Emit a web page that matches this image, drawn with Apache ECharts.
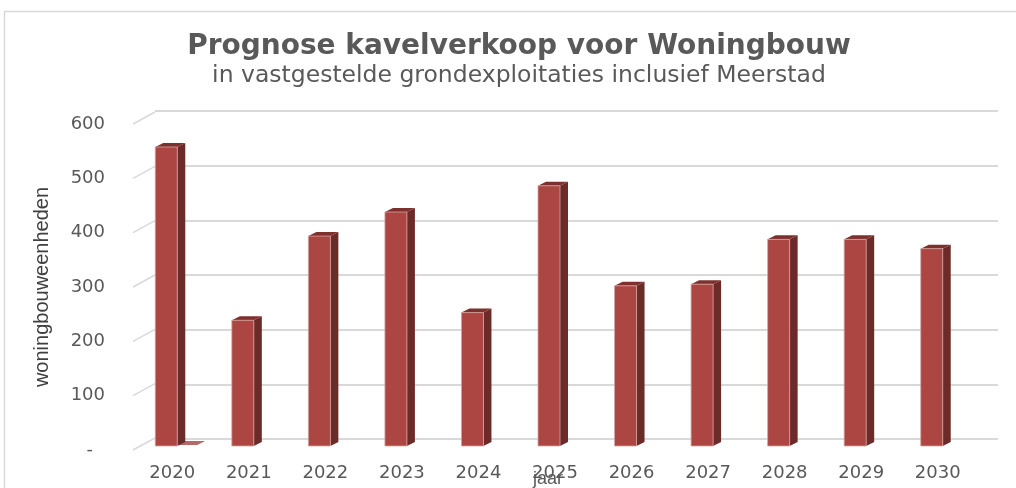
<!DOCTYPE html>
<html>
<head>
<meta charset="utf-8">
<script src="https://cdn.jsdelivr.net/npm/echarts@6/dist/echarts.min.js"></script>
<style>
  html, body { margin: 0; padding: 0; background: #fff; }
  #chart { width: 1016px; height: 488px; }
</style>
</head>
<body>
<div id="chart"></div>
<script>
// Years on the category axis
const years = ['2020', '2021', '2022', '2023', '2024', '2025', '2026', '2027', '2028', '2029', '2030'];
// Forecast plot sales for housing (woningbouweenheden)
const kavelverkoop = [547, 230, 384, 428, 244, 476, 293, 296, 378, 378, 361];
// Second series: only a zero entry for 2020, drawn as a flat block
const tweedeReeks = [0, null, null, null, null, null, null, null, null, null, null];
// Value-axis ticks
const yTicks = [0, 100, 200, 300, 400, 500, 600];

const chart = echarts.init(document.getElementById('chart'), null, { renderer: 'canvas' });

// Column geometry (pseudo-3D)
const FACE_W = 22;      // width of the front face
const FACE_SHIFT = -6;  // front face centre relative to category centre
const DEPTH_X = 8;      // side face depth, horizontal
const DEPTH_Y = 4;      // side face depth, vertical
const DIAG_X = 22, DIAG_Y = 12;

const FRONT = '#AC4643';
const SIDE = '#6C2A28';
const TOP = '#7D302D';
const EDGE = '#D6A3A1';
const GRID = '#D9D9D9';
const TEXT = '#595959';

function renderColumn(params, api) {
  const v = api.value(1);
  if (v === null || isNaN(v)) return null;
  const top = api.coord([api.value(0), v]);
  const base = api.coord([api.value(0), 0]);
  const x0 = top[0] + FACE_SHIFT - FACE_W / 2;
  const x1 = x0 + FACE_W;
  const yT = top[1], yB = base[1];
  return {
    type: 'group',
    children: [
      { type: 'polygon', shape: { points: [[x1, yT], [x1 + DEPTH_X, yT - DEPTH_Y], [x1 + DEPTH_X, yB - DEPTH_Y], [x1, yB]] },
        style: { fill: SIDE } },
      { type: 'polygon', shape: { points: [[x0, yT], [x0 + DEPTH_X, yT - DEPTH_Y], [x1 + DEPTH_X, yT - DEPTH_Y], [x1, yT]] },
        style: { fill: TOP } },
      { type: 'rect', shape: { x: x0, y: yT, width: FACE_W, height: yB - yT },
        style: { fill: FRONT, stroke: EDGE, lineWidth: 0.8 } }
    ]
  };
}

// Flat (zero height) block of the second series, next to the main column
function renderFlat(params, api) {
  const v = api.value(1);
  if (v === null || isNaN(v)) return null;
  const top = api.coord([api.value(0), v]);
  const x0 = top[0] + FACE_SHIFT - FACE_W / 2 + FACE_W;
  const x1 = x0 + FACE_W - 2;
  const y = top[1] - 1;
  return {
    type: 'polygon',
    shape: { points: [[x0, y], [x0 + DEPTH_X, y - DEPTH_Y], [x1 + DEPTH_X, y - DEPTH_Y], [x1, y]] },
    style: { fill: '#B26B69' }
  };
}

// Receding lines linking the value labels to the back-wall gridlines
function renderDiagonal(params, api) {
  const p = api.coord([0, api.value(0)]);
  const left = p[0] - api.size([1, 0])[0] / 2;
  return {
    type: 'line',
    shape: { x1: left - 1, y1: p[1], x2: left - 1 + DIAG_X, y2: p[1] - DIAG_Y },
    style: { stroke: GRID, lineWidth: 1.5 }
  };
}

const option = {
  backgroundColor: '#ffffff',
  animation: false,
  title: {
    text: 'Prognose kavelverkoop voor Woningbouw',
    subtext: 'in vastgestelde grondexploitaties inclusief Meerstad',
    left: 514,
    textAlign: 'center',
    top: 28,
    itemGap: 3,
    textStyle: { fontFamily: 'DejaVu Sans', fontWeight: 'bold', fontSize: 28, color: TEXT },
    subtextStyle: { fontFamily: 'DejaVu Sans', fontSize: 23.5, color: TEXT }
  },
  graphic: [
    { type: 'rect', silent: true, shape: { x: 4.5, y: 11.5, width: 1200, height: 700 },
      style: { fill: 'none', stroke: GRID, lineWidth: 1.5 } }
  ],
  grid: [
    // back wall with the gridlines
    { left: 155, right: 18, top: 111, bottom: 49, outerBoundsMode: 'none', containLabel: false },
    // front plane: axis labels
    { left: 134, right: 40, top: 124, bottom: 38, outerBoundsMode: 'none', containLabel: false },
    // columns
    { left: 134, right: 40, top: 118, bottom: 42, outerBoundsMode: 'none', containLabel: false }
  ],
  xAxis: [
    { gridIndex: 0, type: 'category', data: years, show: false },
    { gridIndex: 1, type: 'category', data: years,
      axisLine: { show: false }, axisTick: { show: false },
      axisLabel: { margin: 14, fontFamily: 'DejaVu Sans', fontSize: 18, color: TEXT },
      name: 'jaar', nameLocation: 'middle', nameGap: 20, nameMoveOverlap: false,
      nameTextStyle: { fontFamily: 'Liberation Sans', fontSize: 18, color: TEXT, padding: [0, 14, 0, 0] } },
    { gridIndex: 2, type: 'category', data: years, show: false }
  ],
  yAxis: [
    { gridIndex: 0, type: 'value', min: 0, max: 600, interval: 100,
      axisLine: { show: false }, axisTick: { show: false }, axisLabel: { show: false },
      splitLine: { lineStyle: { color: GRID, width: 2 } } },
    { gridIndex: 1, type: 'value', min: 0, max: 600, interval: 100,
      axisLine: { show: false }, axisTick: { show: false }, splitLine: { show: false },
      axisLabel: {
        margin: 29, fontFamily: 'DejaVu Sans', fontSize: 18, color: TEXT,
        formatter: v => v === 0 ? '{d|-}' : String(v),
        rich: { d: { fontFamily: 'DejaVu Sans', fontSize: 18, color: TEXT, padding: [0, 12, 0, 0] } }
      },
      name: 'woningbouweenheden', nameLocation: 'middle', nameRotate: 90, nameGap: 82, nameMoveOverlap: false,
      nameTextStyle: { fontFamily: 'Liberation Sans', fontSize: 20, color: '#404040' } },
    { gridIndex: 2, type: 'value', min: 0, max: 600, interval: 100, show: false, splitLine: { show: false } }
  ],
  series: [
    { type: 'custom', name: 'diagonalen', xAxisIndex: 1, yAxisIndex: 1, silent: true,
      renderItem: renderDiagonal, encode: { y: 0 }, data: yTicks.map(v => [v]), z: 1 },
    { type: 'custom', name: 'kavelverkoop', xAxisIndex: 2, yAxisIndex: 2,
      renderItem: renderColumn, encode: { x: 0, y: 1 },
      data: years.map((y, i) => [y, kavelverkoop[i]]), z: 3 },
    { type: 'custom', name: 'tweede reeks', xAxisIndex: 2, yAxisIndex: 2,
      renderItem: renderFlat, encode: { x: 0, y: 1 },
      data: years.map((y, i) => [y, tweedeReeks[i]]), z: 2 }
  ]
};

chart.setOption(option);
</script>
</body>
</html>
